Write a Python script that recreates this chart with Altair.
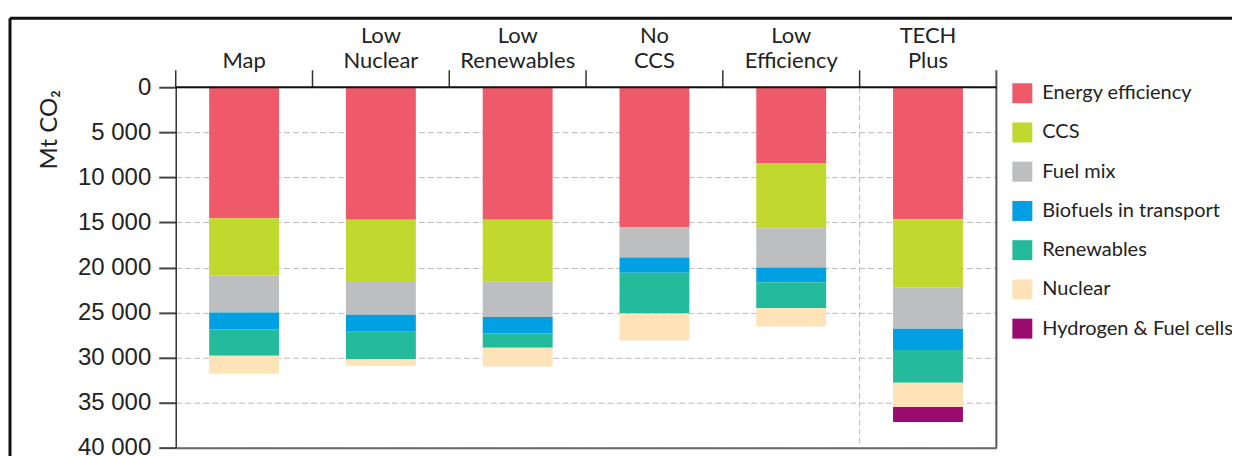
import altair as alt
import pandas as pd

scenarios = ["Map", "Low Nuclear", "Low Renewables", "No CCS", "Low Efficiency", "TECH Plus"]
header_line1 = ["", "Low", "Low", "No", "Low", "TECH"]
header_line2 = ["Map", "Nuclear", "Renewables", "CCS", "Efficiency", "Plus"]
technologies = ["Energy efficiency", "CCS", "Fuel mix", "Biofuels in transport",
                "Renewables", "Nuclear", "Hydrogen & Fuel cells"]
colors = ["#EF5A6B", "#C1D82F", "#BDBEC0", "#00A0E2", "#23BB9B", "#FEE3B9", "#990B6F"]

energy_efficiency = [14550, 14700, 14700, 15550, 8400, 14650]
ccs = [6350, 6800, 6900, 0, 7250, 7550]
fuel_mix = [4100, 3750, 3900, 3350, 4350, 4600]
biofuels = [1850, 1900, 1800, 1700, 1650, 2350]
renewables = [2950, 3000, 1600, 4500, 2850, 3650]
nuclear = [2000, 750, 2100, 3000, 2050, 2700]
hydrogen = [0, 0, 0, 0, 0, 1650]

y_ticks = [0, 5000, 10000, 15000, 20000, 25000, 30000, 35000, 40000]

series = [energy_efficiency, ccs, fuel_mix, biofuels, renewables, nuclear, hydrogen]
rows = []
for k, (tech, vals) in enumerate(zip(technologies, series)):
    for s, v in zip(scenarios, vals):
        rows.append({"scenario": s, "technology": tech, "value": v, "ord": k})
df = pd.DataFrame(rows)
hdr = pd.DataFrame({"scenario": scenarios, "l1": header_line1, "l2": header_line2})
one = pd.DataFrame({"a": [0]})

W, H = 822, 361
STEP = W / len(scenarios)
FONT = "Liberation Sans"
SOFT = "Lato"

x_scale = alt.Scale(domain=scenarios, paddingInner=0.489, paddingOuter=0.2445)
y_scale = alt.Scale(domain=[0, 40000], reverse=True, nice=False)

bars = alt.Chart(df).mark_bar().encode(
    x=alt.X("scenario:N", scale=x_scale,
            axis=alt.Axis(title=None, labels=False, ticks=False, domain=True,
                          domainColor="#666666", domainWidth=2, grid=False)),
    y=alt.Y("value:Q", stack="zero", scale=y_scale,
            axis=alt.Axis(values=y_ticks, title="Mt CO₂",
                          labelExpr="replace(format(datum.value, ','), ',', ' ')",
                          grid=True, gridDash=[6, 3], gridColor="#BBBBBB", gridWidth=1,
                          tickSize=17, tickColor="#444444", tickWidth=2,
                          domainColor="#333333", domainWidth=1.5,
                          labelPadding=8, labelFontSize=24, labelFont=FONT, labelColor="#222222",
                          titleX=-126, titleY=42, titleAngle=270, titleAlign="center",
                          titleBaseline="middle", titleFontSize=24, titleFont=SOFT,
                          titleFontWeight="normal", titleColor="#222222")),
    color=alt.Color("technology:N", scale=alt.Scale(domain=technologies, range=colors),
                    legend=alt.Legend(title=None, orient="none", legendX=838, legendY=-4,
                                      symbolType="square", symbolSize=400, symbolStrokeWidth=0,
                                      labelFontSize=20, labelFont=SOFT, labelColor="#222222",
                                      labelOffset=10, rowPadding=19.3, padding=0,
                                      labelLimit=300)),
    order=alt.Order("ord:Q", sort="ascending"),
)

h1 = alt.Chart(hdr).mark_text(fontSize=22, font=SOFT, baseline="alphabetic", color="#222222").encode(
    x=alt.X("scenario:N", scale=x_scale), y=alt.value(-44), text="l1:N")
h2 = alt.Chart(hdr).mark_text(fontSize=22, font=SOFT, baseline="alphabetic", color="#222222").encode(
    x=alt.X("scenario:N", scale=x_scale), y=alt.value(-19), text="l2:N")

seps = alt.Chart(hdr).mark_rule(color="#333333", strokeWidth=1.5, xOffset=-STEP / 2).encode(
    x=alt.X("scenario:N", scale=x_scale), y=alt.value(-17), y2=alt.value(0))
divider = alt.Chart(hdr[hdr.scenario == "TECH Plus"]).mark_rule(
    color="#BBBBBB", strokeWidth=1, strokeDash=[6, 3], xOffset=-STEP / 2).encode(
    x=alt.X("scenario:N", scale=x_scale), y=alt.value(0), y2=alt.value(H))
right_border = alt.Chart(hdr[hdr.scenario == "TECH Plus"]).mark_rule(
    color="#555555", strokeWidth=2, xOffset=STEP / 2).encode(
    x=alt.X("scenario:N", scale=x_scale), y=alt.value(-17), y2=alt.value(H))
top_line = alt.Chart(one).mark_rule(color="#111111", strokeWidth=2).encode(
    x=alt.value(0), x2=alt.value(W), y=alt.value(0))
frame_top = alt.Chart(one).mark_rule(color="#111111", strokeWidth=3).encode(
    x=alt.value(-166), x2=alt.value(1100), y=alt.value(-69))
frame_left = alt.Chart(one).mark_rule(color="#111111", strokeWidth=3).encode(
    x=alt.value(-166), y=alt.value(-69), y2=alt.value(H + 40))

chart = alt.layer(bars, divider, seps, right_border, top_line, h1, h2, frame_top, frame_left).properties(
    width=W, height=H,
    padding={"left": 168, "top": 79, "right": 236, "bottom": 8},
    autosize=alt.AutoSizeParams(type="none"),
).configure_view(stroke=None)

chart.save("out.html", embed_options={"renderer": "svg", "actions": False})
